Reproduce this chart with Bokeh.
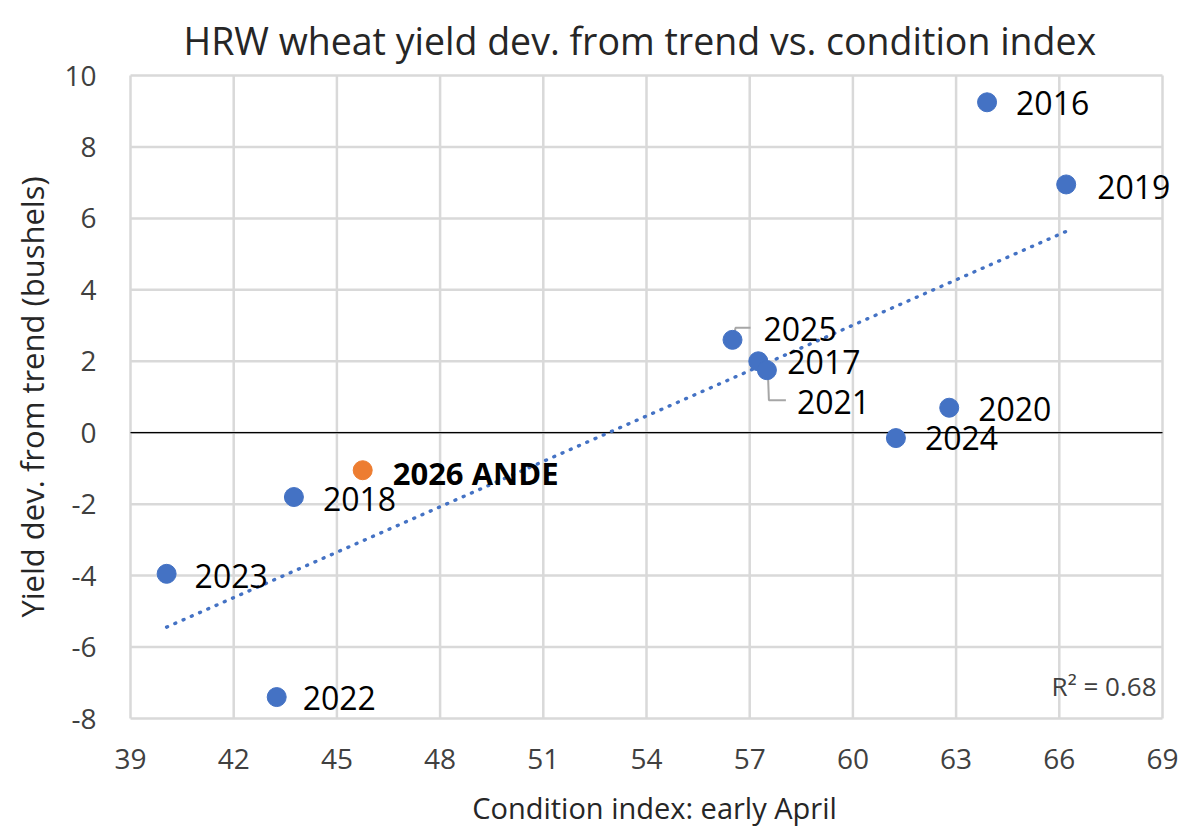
import numpy as np
from bokeh.plotting import figure
from bokeh.models import ColumnDataSource, FixedTicker, Label, LabelSet, Range1d
from bokeh.core.properties import value
from bokeh.embed import file_html
from bokeh.resources import INLINE

# ---- data ----
title_text = "HRW wheat yield dev. from trend vs. condition index"
years = ["2016", "2019", "2025", "2017", "2021", "2020", "2024", "2018", "2023", "2022"]
cond_index = [63.9, 66.2, 56.5, 57.25, 57.5, 62.8, 61.25, 43.75, 40.05, 43.25]
yield_dev = [9.25, 6.95, 2.6, 2.0, 1.75, 0.7, -0.15, -1.8, -3.95, -7.4]

ande_label = ["2026 ANDE"]
ande_cond = [45.75]
ande_dev = [-1.05]

x_ticks = [39, 42, 45, 48, 51, 54, 57, 60, 63, 66, 69]
y_ticks = [-8, -6, -4, -2, 0, 2, 4, 6, 8, 10]

# ---- styles / positions ----
FONT = "Open Sans"
BLUE = "#4472C4"
ORANGE = "#ED7D31"
GRID = "#d9d9d9"
X0, X1 = 39, 69
Y0, Y1 = -8, 10
PXX = 1032 / (X1 - X0)   # pixels per x unit
PXY = 643 / (Y1 - Y0)    # pixels per y unit
PAD_L, PAD_R, PAD_T, PAD_B = 2, 18, 2, 2
FW = 1032 + PAD_L + PAD_R
FH = 643 + PAD_T + PAD_B
# label offsets in screen px (dy positive = downward)
label_dx = [29, 31, 31, 29, 30, 29, 29, 29, 28, 26]
label_dy = [1, 3, -11, 1, 32, 1, 0, 2, 2, 1]
# leader lines (screen px offsets from point, y down), keyed by year
leaders = {"2025": [(1, -2), (3, -12), (18, -12)],
           "2021": [(1, 2), (2, 30), (19, 30)]}

BL, BT = 130 - PAD_L, 75 - PAD_T
p = figure(width=1182, height=823, output_backend="svg", toolbar_location=None,
           x_range=Range1d(X0 - PAD_L / PXX, X1 + PAD_R / PXX),
           y_range=Range1d(Y0 - PAD_B / PXY, Y1 + PAD_T / PXY),
           min_border_left=BL, min_border_right=1182 - BL - FW,
           min_border_top=BT, min_border_bottom=823 - BT - FH,
           frame_width=FW, frame_height=FH)
p.background_fill_color = "white"
p.border_fill_color = "white"
p.outline_line_color = None
p.xgrid.visible = False
p.ygrid.visible = False

p.title.text = title_text
p.title.align = "left"
p.title.offset = 183 - 130 + PAD_L
p.title.vertical_align = "middle"
p.title.standoff = 14
p.title.text_font = FONT
p.title.text_font_size = "37.5px"
p.title.text_font_style = "normal"
p.title.text_color = "#262626"

# gridlines (bounded to the plot box)
p.segment(x0=x_ticks, y0=[Y0] * len(x_ticks), x1=x_ticks, y1=[Y1] * len(x_ticks),
          line_color=GRID, line_width=2.5)
p.segment(x0=[X0] * len(y_ticks), y0=y_ticks, x1=[X1] * len(y_ticks), y1=y_ticks,
          line_color=GRID, line_width=2.5)
# zero line
p.segment(x0=[X0], y0=[0], x1=[X1], y1=[0], line_color="black", line_width=1.2)

p.xaxis.ticker = FixedTicker(ticks=x_ticks)
p.yaxis.ticker = FixedTicker(ticks=y_ticks)
p.yaxis.major_label_overrides = {t: str(t) for t in y_ticks}
p.xaxis.major_label_overrides = {t: str(t) for t in x_ticks}
for ax in (p.xaxis[0], p.yaxis[0]):
    ax.axis_line_color = None
    ax.major_tick_line_color = None
    ax.minor_tick_line_color = None
    ax.major_tick_out = 0
    ax.major_tick_in = 0
    ax.major_label_text_font = FONT
    ax.major_label_text_font_size = "28px"
    ax.major_label_text_color = "#404040"
    ax.axis_label_text_font = FONT
    ax.axis_label_text_font_style = "normal"
    ax.axis_label_text_color = "#262626"
p.xaxis.axis_label = "Condition index: early April"
p.yaxis.axis_label = "Yield dev. from trend (bushels)"
p.xaxis.axis_label_text_font_size = "29px"
p.yaxis.axis_label_text_font_size = "31px"
p.xaxis.major_label_standoff = 26 + PAD_B
p.xaxis.axis_label_standoff = 16
p.yaxis.major_label_standoff = 30 + PAD_L
p.yaxis.axis_label_standoff = 8

# trend line (least squares over the yearly points)
slope, icpt = np.polyfit(cond_index, yield_dev, 1)
pred = slope * np.array(cond_index) + icpt
r2 = 1 - np.sum((np.array(yield_dev) - pred) ** 2) / np.sum((np.array(yield_dev) - np.mean(yield_dev)) ** 2)
tx = np.array([min(cond_index), max(cond_index)])
p.line(tx, slope * tx + icpt, line_color=BLUE, line_width=3.4, line_dash="1 8", line_cap="round")

# leader lines
for yr, pts in leaders.items():
    i = years.index(yr)
    p.line([cond_index[i] + dx / PXX for dx, dy in pts],
           [yield_dev[i] - dy / PXY for dx, dy in pts],
           line_color="#a6a6a6", line_width=2)

src = ColumnDataSource(dict(x=cond_index, y=yield_dev, t=years, dx=label_dx,
                            dy=[-d for d in label_dy]))
p.scatter("x", "y", source=src, size=19, fill_color=BLUE, line_color=BLUE)
p.add_layout(LabelSet(x="x", y="y", text="t", source=src, x_offset="dx", y_offset="dy",
                      text_font=value(FONT), text_font_size="32px", text_color="black",
                      text_align="left", text_baseline="middle"))

src2 = ColumnDataSource(dict(x=ande_cond, y=ande_dev, t=ande_label))
p.scatter("x", "y", source=src2, size=19, fill_color=ORANGE, line_color=ORANGE)
p.add_layout(LabelSet(x="x", y="y", text="t", source=src2, x_offset=30, y_offset=-3,
                      text_font=value(FONT), text_font_size="31px", text_font_style="bold",
                      text_color="black", text_align="left", text_baseline="middle"))

p.add_layout(Label(x=X1, y=-7.1, x_offset=-6, text="R\u00b2 = %.2f" % r2,
                   text_font=FONT, text_font_size="26px", text_color="#404040",
                   text_align="right", text_baseline="middle"))

open("out.html", "w").write(file_html(p, INLINE))
